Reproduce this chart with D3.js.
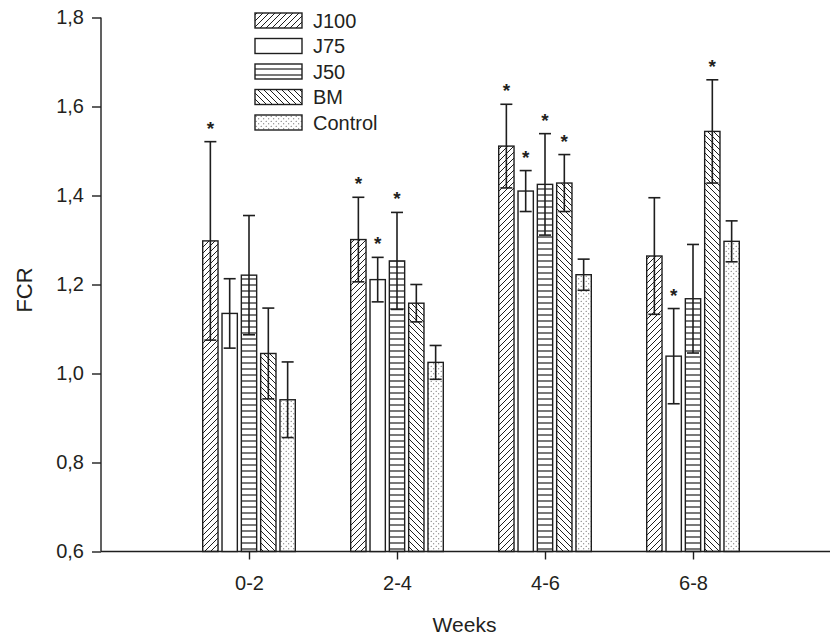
<!DOCTYPE html>
<html>
<head>
<meta charset="utf-8">
<script src="https://cdn.jsdelivr.net/npm/d3@7"></script>
<style>
  html, body { margin: 0; padding: 0; background: #fff; }
  svg { display: block; }
  text { font-family: Arial, "Liberation Sans", sans-serif; fill: #231f20; }
</style>
</head>
<body>
<svg id="chart" width="830" height="637"></svg>
<script>
// ---------- data ----------
const weeks = ["0-2", "2-4", "4-6", "6-8"];
const seriesNames = ["J100", "J75", "J50", "BM", "Control"];
const J100 = [1.298, 1.301, 1.511, 1.264];
const J75 = [1.135, 1.211, 1.410, 1.039];
const J50 = [1.221, 1.253, 1.425, 1.168];
const BM = [1.045, 1.158, 1.428, 1.544];
const Control = [0.941, 1.025, 1.222, 1.297];
const J100_err = [0.223, 0.095, 0.094, 0.131];
const J75_err = [0.078, 0.050, 0.046, 0.107];
const J50_err = [0.134, 0.109, 0.114, 0.122];
const BM_err = [0.102, 0.042, 0.064, 0.116];
const Control_err = [0.085, 0.038, 0.035, 0.046];
const J100_sig = [1, 1, 1, 0];
const J75_sig = [0, 1, 1, 1];
const J50_sig = [0, 1, 1, 0];
const BM_sig = [0, 0, 1, 1];
const Control_sig = [0, 0, 0, 0];
const yTicks = [0.6, 0.8, 1.0, 1.2, 1.4, 1.6, 1.8];

const values = { J100, J75, J50, BM, Control };
const errors = { J100: J100_err, J75: J75_err, J50: J50_err, BM: BM_err, Control: Control_err };
const sigs = { J100: J100_sig, J75: J75_sig, J50: J50_sig, BM: BM_sig, Control: Control_sig };

// ---------- layout ----------
const svg = d3.select("#chart");
const mLeft = 101, mRight = 841, mTop = 17.5, mBottom = 551.5;
const ink = "#1e1e1e";

const x = d3.scaleLinear().domain([0, weeks.length + 1]).range([mLeft, mRight]);
const xInner = d3.scaleBand().domain(seriesNames).range([-46.3, 46.3]).paddingInner(0.207).paddingOuter(0);
const y = d3.scaleLinear().domain([0.6, 1.8]).range([mBottom, mTop]);

// ---------- patterns ----------
const defs = svg.append("defs");
const p1 = defs.append("pattern").attr("id", "pJ100").attr("patternUnits", "userSpaceOnUse")
  .attr("width", 6).attr("height", 6);
p1.append("path").attr("d", "M-1,1 L1,-1 M0,6 L6,0 M5,7 L7,5").attr("stroke", ink).attr("stroke-width", 1);

const p3 = defs.append("pattern").attr("id", "pJ50").attr("patternUnits", "userSpaceOnUse")
  .attr("width", 6).attr("height", 6);
p3.append("path").attr("d", "M0,3 L6,3").attr("stroke", ink).attr("stroke-width", 1.2);

const p4 = defs.append("pattern").attr("id", "pBM").attr("patternUnits", "userSpaceOnUse")
  .attr("width", 6).attr("height", 6);
p4.append("path").attr("d", "M-1,5 L1,7 M0,0 L6,6 M5,-1 L7,1").attr("stroke", ink).attr("stroke-width", 1);

const p5 = defs.append("pattern").attr("id", "pControl").attr("patternUnits", "userSpaceOnUse")
  .attr("width", 5).attr("height", 5);
p5.append("circle").attr("cx", 1.2).attr("cy", 1.2).attr("r", 0.55).attr("fill", "#444");
p5.append("circle").attr("cx", 3.7).attr("cy", 3.7).attr("r", 0.55).attr("fill", "#444");

const fills = { J100: "url(#pJ100)", J75: "#fff", J50: "url(#pJ50)", BM: "url(#pBM)", Control: "url(#pControl)" };

// ---------- axes ----------
const yAxis = d3.axisLeft(y).tickValues(yTicks).tickSize(9).tickPadding(8)
  .tickFormat(d => d3.format(".1f")(d).replace(".", ","));
const gy = svg.append("g").attr("transform", `translate(${mLeft},0)`).call(yAxis);
gy.select(".domain").attr("stroke", ink).attr("stroke-width", 1.4).attr("d", `M0,${mTop}H0V${mBottom}`);
gy.selectAll(".tick line").attr("stroke", ink).attr("stroke-width", 1.4);
gy.selectAll(".tick text").attr("font-size", 20).attr("fill", "#231f20")
  .style("font-family", "Arial, 'Liberation Sans', sans-serif");

const xAxis = d3.axisBottom(x).tickValues(weeks.map((w, i) => i + 1)).tickSize(8).tickPadding(16)
  .tickFormat(d => weeks[d - 1]);
const gx = svg.append("g").attr("transform", `translate(0,${mBottom})`).call(xAxis);
gx.select(".domain").attr("stroke", ink).attr("stroke-width", 1.4).attr("d", `M${mLeft},0H${mRight}`);
gx.selectAll(".tick line").attr("stroke", ink).attr("stroke-width", 1.4);
gx.selectAll(".tick text").attr("font-size", 20).attr("fill", "#231f20")
  .style("font-family", "Arial, 'Liberation Sans', sans-serif");

// ---------- bars ----------
const bw = xInner.bandwidth();
const capW = 12;
seriesNames.forEach(s => {
  const g = svg.append("g");
  weeks.forEach((w, i) => {
    const v = values[s][i], e = errors[s][i];
    const cx = x(i + 1) + xInner(s) + bw / 2;
    const x0 = x(i + 1) + xInner(s);
    g.append("rect").attr("x", x0).attr("y", y(v)).attr("width", bw).attr("height", y(0.6) - y(v))
      .attr("fill", fills[s]).attr("stroke", ink).attr("stroke-width", 1.4);
    const yt = y(v + e), yb = y(v - e);
    g.append("line").attr("x1", cx).attr("x2", cx).attr("y1", yt).attr("y2", yb)
      .attr("stroke", ink).attr("stroke-width", 1.6);
    g.append("line").attr("x1", cx - capW / 2).attr("x2", cx + capW / 2).attr("y1", yt).attr("y2", yt)
      .attr("stroke", ink).attr("stroke-width", 1.6);
    g.append("line").attr("x1", cx - capW / 2).attr("x2", cx + capW / 2).attr("y1", yb).attr("y2", yb)
      .attr("stroke", ink).attr("stroke-width", 1.6);
    if (sigs[s][i]) {
      g.append("text").attr("x", cx).attr("y", yt - 7).attr("text-anchor", "middle")
        .attr("font-size", 19).attr("font-weight", "bold").text("*");
    }
  });
});

// ---------- legend ----------
const leg = svg.append("g");
seriesNames.forEach((s, i) => {
  const cy = 20.5 + i * 25.5;
  leg.append("rect").attr("x", 255).attr("y", cy - 7.5).attr("width", 47).attr("height", 15)
    .attr("fill", fills[s]).attr("stroke", ink).attr("stroke-width", 1.4);
  leg.append("text").attr("x", 313).attr("y", cy).attr("dy", "0.36em").attr("font-size", 20).text(s);
});

// ---------- titles ----------
svg.append("text").attr("x", (mLeft + 828) / 2).attr("y", 632).attr("text-anchor", "middle")
  .attr("font-size", 21).text("Weeks");
svg.append("text").attr("transform", `translate(32,290) rotate(-90)`)
  .attr("text-anchor", "middle").attr("font-size", 22).text("FCR");
</script>
</body>
</html>
